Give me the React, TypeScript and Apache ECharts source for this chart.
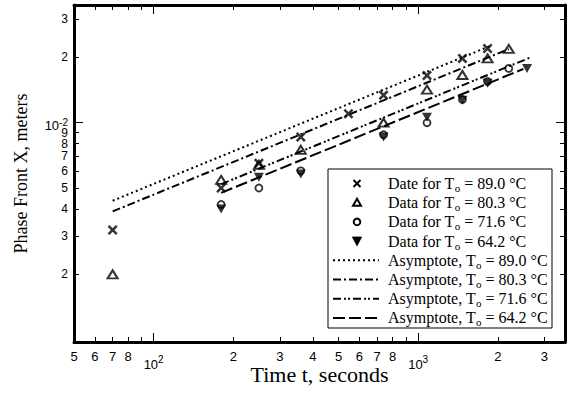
import React, { useEffect, useRef } from "react";
import * as echarts from "echarts";

// ---- data (time in s, phase front in m) ----
const t89 = [70, 180, 250, 360, 545, 740, 1080, 1470, 1830];
const x89 = [0.0032, 0.005, 0.0065, 0.0086, 0.011, 0.0134, 0.0165, 0.0198, 0.022];
const t80 = [70, 180, 250, 360, 740, 1080, 1470, 1830, 2200];
const x80 = [0.002, 0.00545, 0.0064, 0.0075, 0.01, 0.0142, 0.0166, 0.0198, 0.0219];
const t71 = [180, 250, 360, 740, 1080, 1470, 1830, 2200];
const x71 = [0.0042, 0.005, 0.006, 0.0088, 0.01, 0.0128, 0.0155, 0.0178];
const t64 = [180, 250, 360, 740, 1080, 1470, 1830, 2580];
const x64 = [0.004, 0.0056, 0.0058, 0.0086, 0.0106, 0.0127, 0.0152, 0.0178];

// asymptote end points
const asymT89 = [70, 1900];
const asymX89 = [0.00437, 0.02275];
const asymT80 = [70, 2200];
const asymX80 = [0.0039, 0.02186];
const asymT71 = [180, 2650];
const asymX71 = [0.00521, 0.01997];
const asymT64 = [180, 2500];
const asymX64 = [0.00475, 0.0177];

// axes
const xMin = 50;
const xMax = 3590;
const yMin = 0.000975;
const yMax = 0.0349;
const xTickVals = [50, 60, 70, 80, 90, 200, 300, 400, 500, 600, 700, 800, 900, 2000, 3000];
const xMajorVals = [100, 1000];
const xLabelVals = [50, 60, 70, 80, 100, 200, 300, 400, 500, 600, 700, 800, 1000, 2000, 3000];
const xLabelText = ["5", "6", "7", "8", "10^2", "2", "3", "4", "5", "6", "7", "8", "10^3", "2", "3"];
const yTickVals = [0.002, 0.003, 0.004, 0.005, 0.006, 0.007, 0.008, 0.009, 0.02, 0.03];
const yMajorVals = [0.01];
const yLabelVals = [0.002, 0.003, 0.004, 0.005, 0.006, 0.007, 0.008, 0.009, 0.01, 0.02, 0.03];
const yLabelText = ["2", "3", "4", "5", "6", "7", "8", "9", "10^-2", "2", "3"];

const legendPrefix = ["Date for", "Data for", "Data for", "Data for", "Asymptote,", "Asymptote,", "Asymptote,", "Asymptote,"];
const legendTemps = ["89.0", "80.3", "71.6", "64.2", "89.0", "80.3", "71.6", "64.2"];

const L = (v: number) => Math.log10(v);
const SANS = "Liberation Sans";
const SERIF = "Liberation Serif";

const DOT = [2, 3];
const DASHDOT = [8, 3, 2, 3];
const DASHDOTDOT = [8, 3, 2, 2, 2, 3];
const LONGDASH = [12, 4];
const CROSS = "path://M0,1.8L1.8,0L5,3.2L8.2,0L10,1.8L6.8,5L10,8.2L8.2,10L5,6.8L1.8,10L0,8.2L3.2,5Z";

function makeFormatter(vals: number[], texts: string[]) {
  return (v: number) => {
    for (let i = 0; i < vals.length; i++) {
      if (Math.abs(L(vals[i]) - v) < 1e-6) {
        const t = texts[i];
        if (t.indexOf("^") >= 0) {
          const [b, e] = t.split("^");
          return `{b|${b}}{s|${e}}`;
        }
        return `{n|${t}}`;
      }
    }
    return "";
  };
}

export default function App() {
  const ref = useRef<HTMLDivElement>(null);
  useEffect(() => {
    document.body.style.margin = "0";
    const chart = echarts.init(ref.current!, undefined, { renderer: "svg" });
    const lineTick = { color: "#000", width: 1 };
    const spine = () => ({ show: true, onZero: false, lineStyle: { color: "#000", width: 3 } });
    const xBase = { type: "value", min: L(xMin), max: L(xMax), splitLine: { show: false }, gridIndex: 0 };
    const yBase = { type: "value", min: L(yMin), max: L(yMax), splitLine: { show: false }, gridIndex: 0 };
    const xRich = {
      n: { fontSize: 13, fontFamily: SANS, color: "#000", lineHeight: 11 },
      b: { fontSize: 13, fontFamily: SANS, color: "#000", padding: [7, 0, 0, 0] },
      s: { fontSize: 10, fontFamily: SANS, color: "#000", padding: [0, 0, 4, 0] },
    };
    const yRich = {
      n: { fontSize: 12, fontFamily: SANS, color: "#000", lineHeight: 10 },
      b: { fontSize: 13, fontFamily: SANS, color: "#000", lineHeight: 10, padding: [6, 0, 0, 0] },
      s: { fontSize: 10, fontFamily: SANS, color: "#000", lineHeight: 8 },
    };
    const pts = (ts: number[], xs: number[]) => ts.map((t, i) => [L(t), L(xs[i])]);
    const hollow = { color: "rgba(255,255,255,0)", borderColor: "#000", borderWidth: 2 };
    const lineSeries = (ts: number[], xs: number[], type: number[]) => ({
      type: "line",
      data: pts(ts, xs),
      symbol: "none",
      lineStyle: { color: "#000", width: 2, type, cap: "butt" },
      z: 2,
      silent: true,
    });

    // legend graphic
    const lx = 328, ly = 169, lw = 224, lh = 159;
    const rowY = (i: number) => ly + 14.5 + i * 19.2;
    const sx = 357;
    const legendEls: any[] = [
      { type: "rect", shape: { x: lx, y: ly, width: lw, height: lh }, style: { fill: "#fff", stroke: "#000", lineWidth: 1 }, z: 10 },
    ];
    legendEls.push({ type: "line", shape: { x1: sx - 3.5, y1: rowY(0) - 3.5, x2: sx + 3.5, y2: rowY(0) + 3.5 }, style: { stroke: "#000", lineWidth: 2 }, z: 11 });
    legendEls.push({ type: "line", shape: { x1: sx - 3.5, y1: rowY(0) + 3.5, x2: sx + 3.5, y2: rowY(0) - 3.5 }, style: { stroke: "#000", lineWidth: 2 }, z: 11 });
    legendEls.push({ type: "polygon", shape: { points: [[sx, rowY(1) - 4], [sx + 4, rowY(1) + 3], [sx - 4, rowY(1) + 3]] }, style: { fill: "none", stroke: "#000", lineWidth: 2 }, z: 11 });
    legendEls.push({ type: "circle", shape: { cx: sx, cy: rowY(2), r: 3.3 }, style: { fill: "none", stroke: "#000", lineWidth: 2 }, z: 11 });
    legendEls.push({ type: "polygon", shape: { points: [[sx - 4.5, rowY(3) - 4], [sx + 4.5, rowY(3) - 4], [sx, rowY(3) + 4.5]] }, style: { fill: "#000", stroke: "#000", lineWidth: 1 }, z: 11 });
    const dashes = [DOT, DASHDOT, DASHDOTDOT, LONGDASH];
    dashes.forEach((d, k) => {
      legendEls.push({ type: "line", shape: { x1: 333, y1: rowY(4 + k), x2: 379, y2: rowY(4 + k) }, style: { stroke: "#000", lineWidth: 2, lineDash: d }, z: 11 });
    });
    legendPrefix.forEach((p, i) => {
      legendEls.push({
        type: "text",
        x: 388,
        y: rowY(i),
        z: 11,
        style: {
          text: `${p} T{sub|o} = ${legendTemps[i]} °C`,
          fontFamily: SERIF,
          fontSize: 16,
          fill: "#000",
          verticalAlign: "middle",
          align: "left",
          rich: { sub: { fontSize: 11, fontFamily: SERIF, fill: "#000", padding: [9, 0, 0, 0] } },
        },
      });
    });

    chart.setOption({
      animation: false,
      backgroundColor: "#fff",
      grid: { left: 74, right: 5, top: 5, bottom: 56, containLabel: false, outerBoundsMode: "none" },
      xAxis: [
        {
          ...xBase,
          position: "bottom",
          axisLine: spine(),
          axisTick: { show: true, inside: true, length: 5, customValues: xTickVals.map(L), lineStyle: lineTick },
          axisLabel: { show: true, margin: 9, customValues: xLabelVals.map(L), formatter: makeFormatter(xLabelVals, xLabelText), rich: xRich },
          name: "Time t, seconds",
          nameLocation: "middle",
          nameGap: 23,
          nameMoveOverlap: false,
          nameTextStyle: { fontFamily: SERIF, fontSize: 22, color: "#000", lineHeight: 18 },
        },
        { ...xBase, position: "bottom", axisLine: { show: false }, axisTick: { show: true, inside: true, length: 9, customValues: xMajorVals.map(L), lineStyle: lineTick }, axisLabel: { show: false } },
        { ...xBase, position: "top", axisLine: spine(), axisTick: { show: true, inside: true, length: 5, customValues: xTickVals.map(L), lineStyle: lineTick }, axisLabel: { show: false } },
        { ...xBase, position: "top", axisLine: { show: false }, axisTick: { show: true, inside: true, length: 9, customValues: xMajorVals.map(L), lineStyle: lineTick }, axisLabel: { show: false } },
      ],
      yAxis: [
        {
          ...yBase,
          position: "left",
          axisLine: spine(),
          axisTick: { show: true, inside: true, length: 5, customValues: yTickVals.map(L), lineStyle: lineTick },
          axisLabel: { show: true, margin: 6, customValues: yLabelVals.map(L), formatter: makeFormatter(yLabelVals, yLabelText), rich: yRich },
          name: "Phase Front X, meters",
          nameLocation: "middle",
          nameGap: 44,
          nameMoveOverlap: false,
          nameTextStyle: { fontFamily: SERIF, fontSize: 18, color: "#000" },
        },
        { ...yBase, position: "left", axisLine: { show: false }, axisTick: { show: true, inside: true, length: 9, customValues: yMajorVals.map(L), lineStyle: lineTick }, axisLabel: { show: false } },
        { ...yBase, position: "right", axisLine: spine(), axisTick: { show: true, inside: true, length: 5, customValues: yTickVals.map(L), lineStyle: lineTick }, axisLabel: { show: false } },
        { ...yBase, position: "right", axisLine: { show: false }, axisTick: { show: true, inside: true, length: 9, customValues: yMajorVals.map(L), lineStyle: lineTick }, axisLabel: { show: false } },
      ],
      series: [
        lineSeries(asymT89, asymX89, DOT),
        lineSeries(asymT80, asymX80, DASHDOT),
        lineSeries(asymT71, asymX71, DASHDOTDOT),
        lineSeries(asymT64, asymX64, LONGDASH),
        { type: "scatter", data: pts(t89, x89), symbol: CROSS, symbolSize: 10, itemStyle: { color: "#000" }, z: 3 },
        { type: "scatter", data: pts(t80, x80), symbol: "triangle", symbolSize: [10, 8], itemStyle: hollow, z: 3 },
        { type: "scatter", data: pts(t71, x71), symbol: "circle", symbolSize: 7, itemStyle: { ...hollow, borderWidth: 1.8 }, z: 3 },
        { type: "scatter", data: pts(t64, x64), symbol: "triangle", symbolRotate: 180, symbolSize: [10, 9], itemStyle: { color: "#000" }, z: 3 },
      ],
      graphic: legendEls,
    });
    return () => chart.dispose();
  }, []);
  return <div ref={ref} style={{ position: "fixed", left: 0, top: 0, width: 570, height: 398, background: "#fff" }} />;
}
